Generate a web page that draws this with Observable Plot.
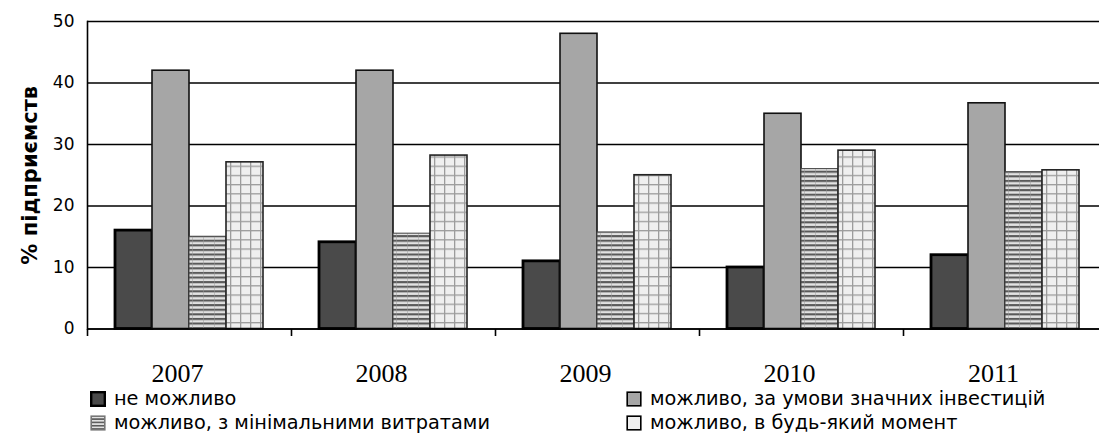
<!DOCTYPE html>
<html>
<head>
<meta charset="utf-8">
<script src="https://cdn.jsdelivr.net/npm/d3@7"></script>
<script src="https://cdn.jsdelivr.net/npm/@observablehq/plot@0.6"></script>
<style>
  html, body { margin: 0; padding: 0; background: #fff; }
  #wrap { position: relative; width: 1099px; height: 436px; overflow: hidden; }
  #wrap svg { display: block; }
  .leg { position: absolute; font-family: "DejaVu Sans", sans-serif; font-size: 19.3px; color: #000; display: flex; align-items: center; white-space: nowrap; line-height: 1; }
  .leg svg { margin-right: 8px; }
</style>
</head>
<body>
<div id="wrap"></div>
<script>
const years = ["2007", "2008", "2009", "2010", "2011"];
const series = [
  "не можливо",
  "можливо, за умови значних інвестицій",
  "можливо, з мінімальними витратами",
  "можливо, в будь-який момент"
];
const vNot    = [16, 14.1, 11, 10, 12];
const vInvest = [42, 42, 48, 35, 36.7];
const vMin    = [15, 15.5, 15.7, 26, 25.5];
const vAny    = [27.1, 28.2, 25, 29, 25.8];
const yTicks  = [0, 10, 20, 30, 40, 50];

const valuesBySeries = [vNot, vInvest, vMin, vAny];
const data = [];
years.forEach((yr, i) => series.forEach((s, j) => data.push({year: yr, series: s, value: valuesBySeries[j][i]})));

const fills = ["#4a4a4a", "#a6a6a6", "url(#pStripe)", "url(#pCheck)"];
const strokes = ["#000", "#111", "#444", "#222"];
const widths = [2.8, 1.6, 1, 1.6];

const tickSym = { draw(ctx) { ctx.moveTo(0, 0); ctx.lineTo(0, 7); } };

const barMarks = series.map((s, j) => Plot.barY(data.filter(d => d.series === s), {
  fx: "year", x: "series", y: "value",
  fill: fills[j], stroke: strokes[j], strokeWidth: widths[j]
}));

const chart = Plot.plot({
  width: 1099, height: 386,
  marginLeft: 87, marginRight: -8, marginTop: 21, marginBottom: 57.5,
  style: { fontFamily: "DejaVu Sans, sans-serif", background: "#fff", overflow: "visible" },
  fx: { domain: years, padding: 0, label: null },
  x: { domain: series, paddingInner: 0, paddingOuter: 0.74, axis: null },
  y: { domain: [0, 50], label: null },
  marks: [
    Plot.gridY(yTicks, { stroke: "#000", strokeOpacity: 1, strokeWidth: 1.6 }),
    ...barMarks,
    Plot.ruleY([0], { stroke: "#000", strokeWidth: 1.6 }),
    Plot.dot([0], { frameAnchor: "bottom-left", symbol: tickSym, stroke: "#000", strokeWidth: 1.6, fill: "none", r: 3 }),
    Plot.frame({ anchor: "left", facetAnchor: "left", stroke: "#000", strokeWidth: 1.6 }),
    Plot.axisY({ ticks: yTicks, tickSize: 7, tickPadding: 6, tickFormat: d => String(d), label: "% підприємств", labelAnchor: "center", labelOffset: 65, labelArrow: "none", fontSize: 17, stroke: null }),
    Plot.axisFx({ anchor: "bottom", tickSize: 0, tickPadding: 35, dx: -12, label: null })
  ]
});

// patterns
const defs = d3.select(chart).insert("defs", ":first-child");
const ps = defs.append("pattern").attr("id", "pStripe").attr("patternUnits", "userSpaceOnUse")
  .attr("width", 11).attr("height", 4.6).attr("y", 0.5);
ps.append("rect").attr("width", 11).attr("height", 4.6).attr("fill", "#e2e2e2");
ps.append("rect").attr("width", 11).attr("height", 2.1).attr("fill", "#5a5a5a");
ps.append("rect").attr("x", 5).attr("width", 1).attr("height", 4.6).attr("fill", "#9a9a9a").attr("opacity", 0.5);
const pc = defs.append("pattern").attr("id", "pCheck").attr("patternUnits", "userSpaceOnUse")
  .attr("width", 10).attr("height", 9.2);
pc.append("rect").attr("width", 10).attr("height", 9.2).attr("fill", "#efefef");
pc.append("rect").attr("width", 10).attr("height", 1.3).attr("fill", "#9c9c9c");
pc.append("rect").attr("width", 1.3).attr("height", 9.2).attr("fill", "#9c9c9c");

// text styling
const sel = d3.select(chart);
sel.selectAll('[aria-label="y-axis tick label"]').attr("font-size", 17.5).attr("fill", "#000");
sel.selectAll('[aria-label="y-axis tick"]').attr("stroke", "#000").attr("stroke-width", 1.6);
sel.selectAll('[aria-label="y-axis label"]').attr("font-size", 21).attr("font-weight", "bold").attr("fill", "#000");
sel.selectAll('[aria-label="fx-axis tick label"]').attr("font-size", 26).attr("font-family", "Liberation Serif, Times New Roman, serif").attr("fill", "#000");

document.getElementById("wrap").appendChild(chart);

// legend
const legPos = [[90, 399], [626, 399], [90, 423], [626, 423]];
const wrap = document.getElementById("wrap");
series.forEach((s, j) => {
  const k = [0, 1, 2, 3][j];
  const div = document.createElement("div");
  div.className = "leg";
  div.style.left = legPos[k][0] + "px";
  div.style.top = (legPos[k][1] - 10) + "px";
  const sw = d3.create("svg").attr("width", 16).attr("height", 16);
  const dd = sw.append("defs");
  if (j === 2) {
    const p = dd.append("pattern").attr("id", "lgS").attr("patternUnits", "userSpaceOnUse").attr("width", 16).attr("height", 3.3);
    p.append("rect").attr("width", 16).attr("height", 3.3).attr("fill", "#e2e2e2");
    p.append("rect").attr("width", 16).attr("height", 1.6).attr("fill", "#5a5a5a");
  }
  if (j === 3) {
    const p = dd.append("pattern").attr("id", "lgC").attr("patternUnits", "userSpaceOnUse").attr("width", 16).attr("height", 16);
    p.append("rect").attr("width", 16).attr("height", 16).attr("fill", "#efefef");
  }
  const f = j === 2 ? "url(#lgS)" : j === 3 ? "url(#lgC)" : fills[j];
  sw.append("rect").attr("x", 1.2).attr("y", 1.2).attr("width", 13.6).attr("height", 13.6)
    .attr("fill", f).attr("stroke", j === 2 ? "#777" : "#000").attr("stroke-width", j === 0 ? 2.4 : 1.6);
  div.appendChild(sw.node());
  const t = document.createElement("span");
  t.textContent = s;
  div.appendChild(t);
  wrap.appendChild(div);
});
</script>
</body>
</html>
